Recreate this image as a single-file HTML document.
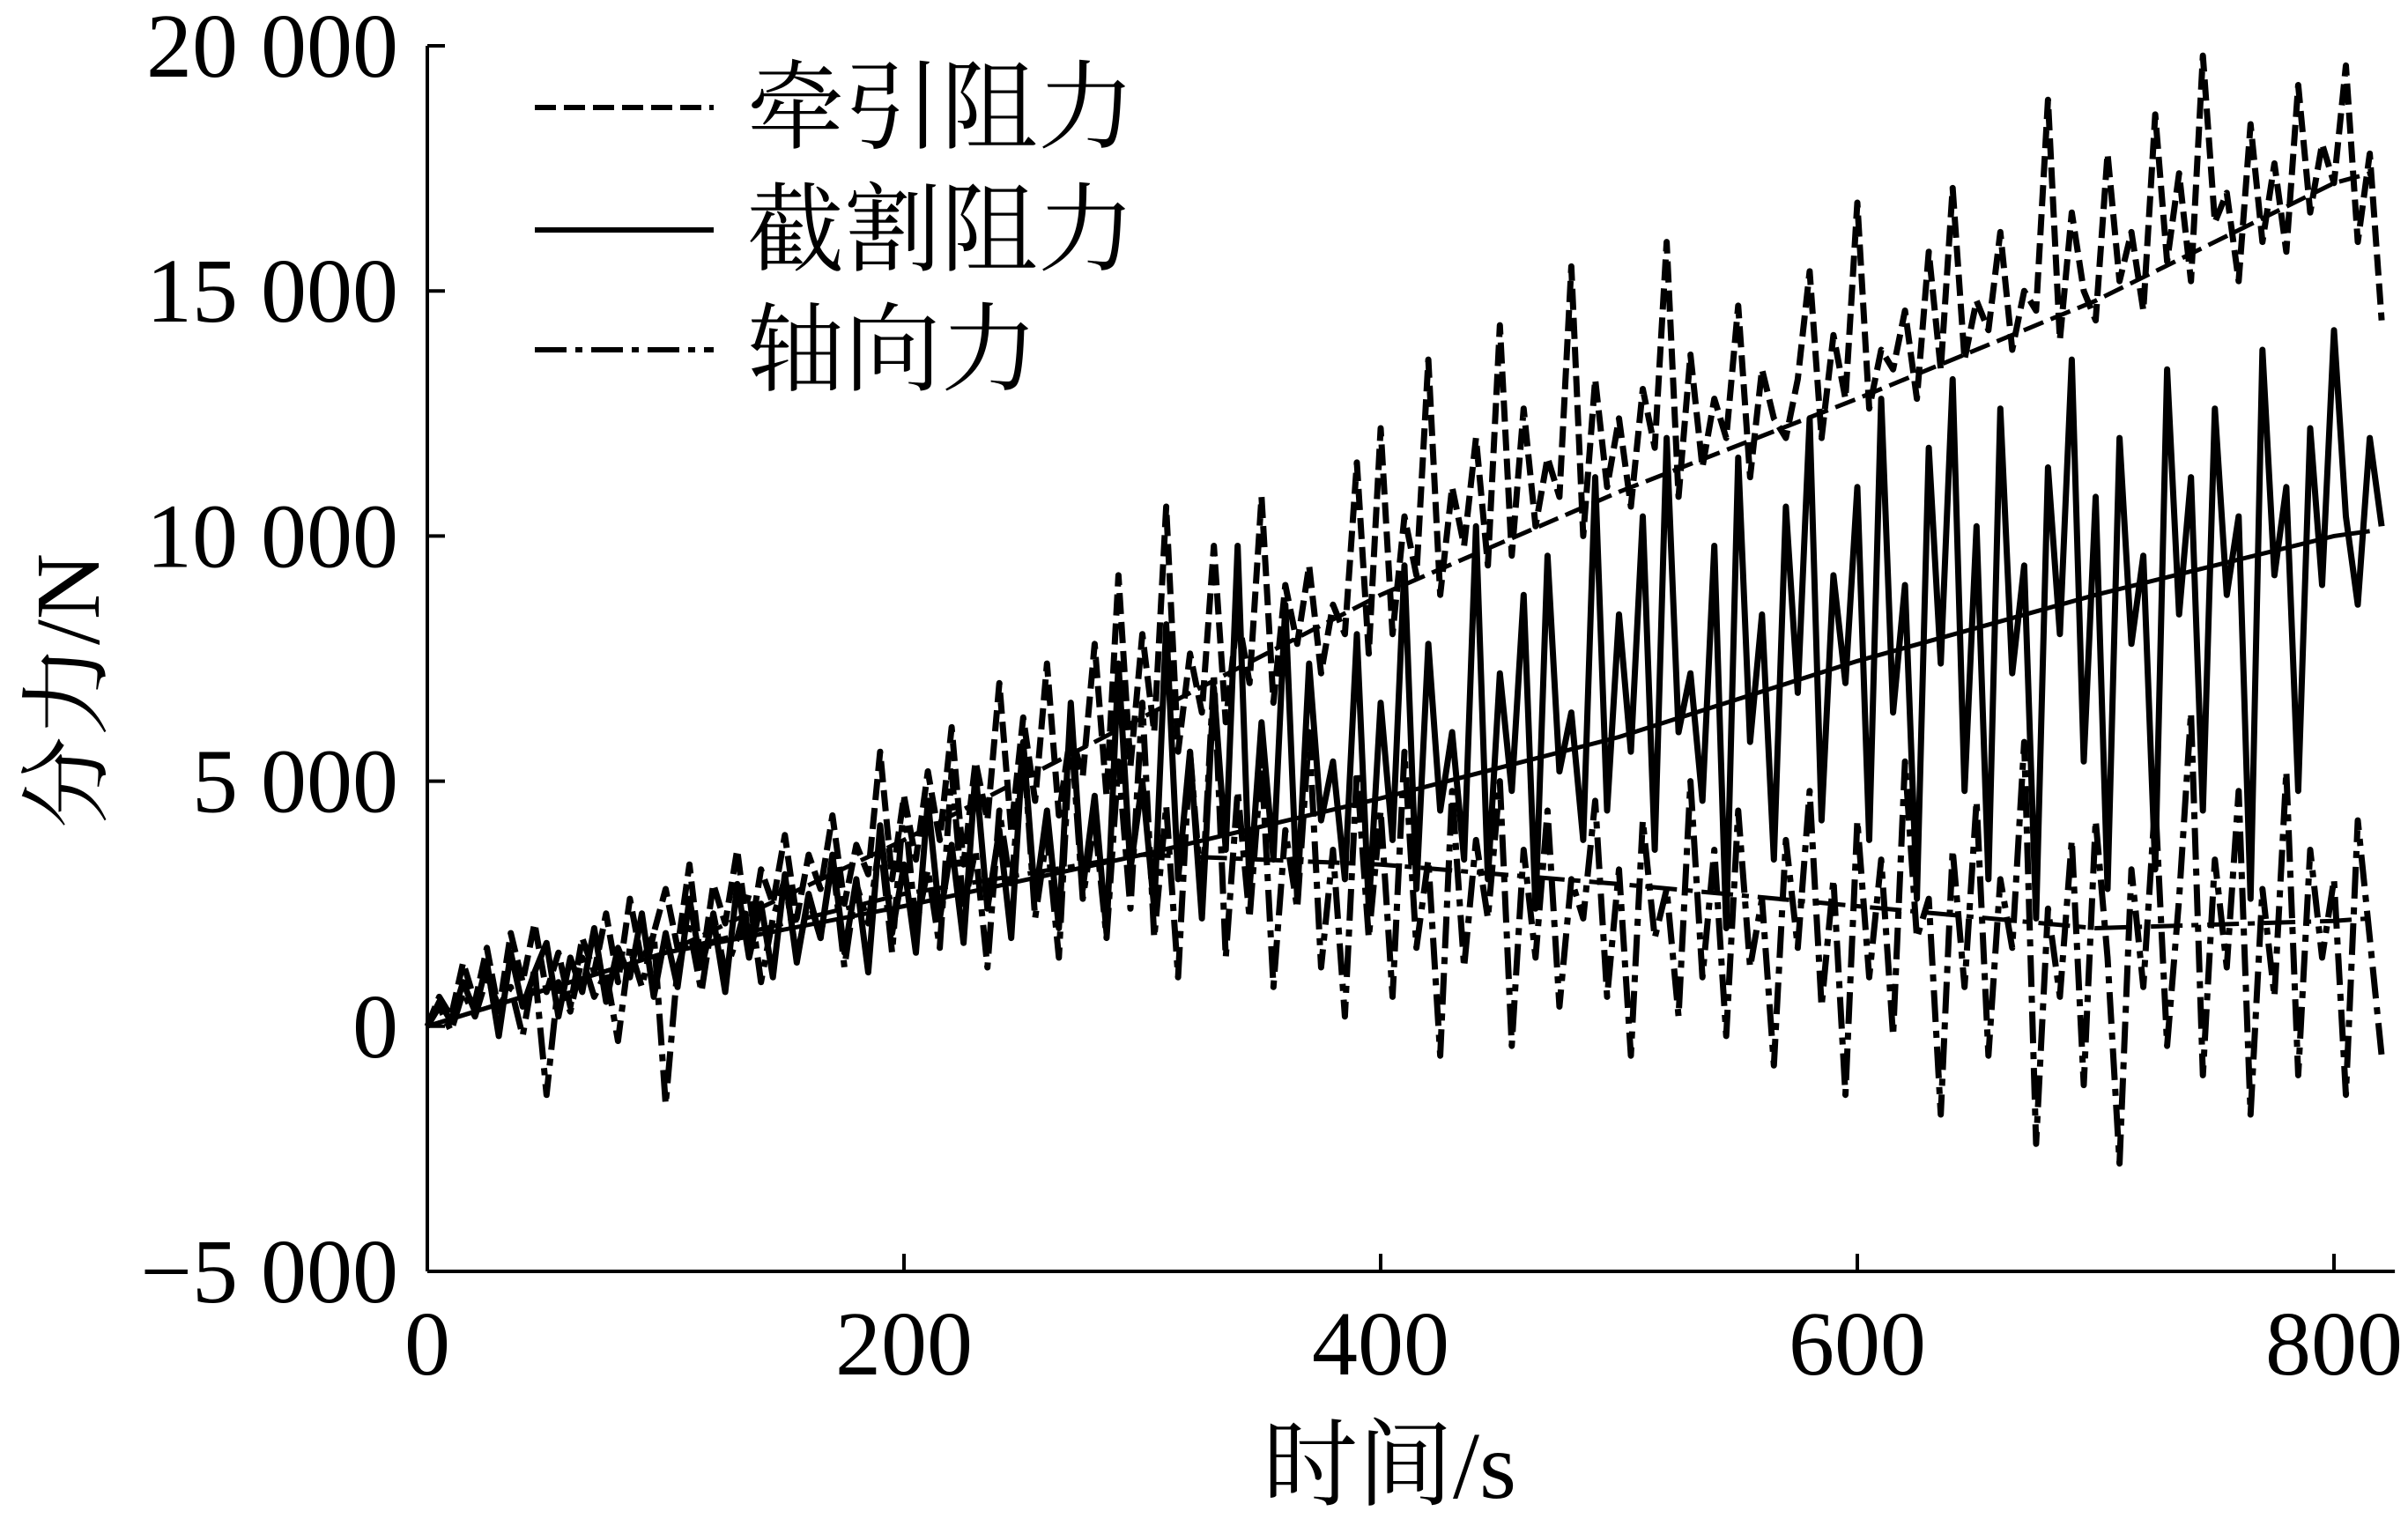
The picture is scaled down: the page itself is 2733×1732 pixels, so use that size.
<!DOCTYPE html>
<html><head><meta charset="utf-8"><style>
html,body{margin:0;padding:0;background:#fff;}
svg{display:block;}
text{font-family:"Liberation Serif","Noto Serif CJK SC","Noto Sans CJK SC",serif;fill:#000;}
</style></head><body>
<svg id="chart" width="2733" height="1732" viewBox="0 0 2733 1732" xmlns="http://www.w3.org/2000/svg">
<g id="axes"></g>
<g id="series"></g>
<g id="legend"></g>
</svg>
<script>
const xTicks=[0,200,400,600,800];
const xTickLabels=["0","200","400","600","800"];
const yTicks=[-5000,0,5000,10000,15000,20000];
const yTickLabels=["−5 000","0","5 000","10 000","15 000","20 000"];
const tMax=820;
const traction=[0,600,200,1300,500,1600,300,1900,900,2100,
700,1500,400,1800,1100,2300,900,2600,1300,1900,
2800,1600,3300,1200,2900,2100,3600,1700,3200,2500,
3900,2200,3500,2800,4300,2500,3700,3100,5600,3000,
4700,3400,5200,3800,6100,3300,5400,4200,7000,4000,
6300,4600,7400,4300,6000,5100,7800,4700,9200,5300,
8000,6000,10600,5600,7600,6400,9800,6200,8400,7000,
10800,6600,9000,7800,9400,7200,8600,8000,11500,7600,
12200,8000,10400,9200,13600,8800,11000,9800,12000,9400,
14300,9600,12600,10200,11600,10800,15500,10000,13200,11000,
12400,10600,13000,11800,16000,10800,13700,11400,12800,12000,
14700,11200,13400,12400,12000,13200,15400,12000,14100,12800,
16800,12600,13800,13400,14600,12800,15800,13400,17100,13600,
14800,14200,16200,13800,15000,14600,18900,14000,16600,15000,
14400,17800,15200,16200,14600,18600,15600,17400,15200,19800,
16400,17000,15200,18400,16000,17600,15800,19200,16600,18000,
17200,19600,16000,17800,14400];
const cutting=[0,500,100,900,300,1300,-200,1500,400,1100,
1700,200,1400,700,2000,500,1600,1000,2300,600,
1900,800,2600,1200,2200,700,2900,1400,2500,1000,
3100,1300,2700,1800,3500,1500,3000,1100,4100,1900,
3300,1500,4600,2200,3700,1700,5200,2400,4000,1800,
5800,2600,4400,2000,6600,2800,4700,1900,7400,3200,
5000,2400,8200,3000,5600,2200,6900,3600,9800,2800,
6200,3400,8600,2600,7400,4200,5400,3000,8000,2400,
6600,3800,9400,2800,7800,4400,6000,3400,10200,3000,
7200,4800,8800,2400,9600,5200,6400,3800,11200,4400,
8400,5600,10400,3600,12000,6000,7200,4600,9800,2000,
11600,5800,8400,3400,10600,6800,12400,4200,9200,7000,
11000,3800,12800,6400,9000,2600,11800,7400,13200,4800,
10200,3000,12600,7200,9400,2200,11400,8000,13600,5400,
10800,2800,12000,7800,9600,3200,13400,8400,11200,4400,
12600,8800,10400,2600,13800,9200,11000,4800,12200,9000,
14200,10400,8600,12000,10200];
const axial=[0,400,-100,700,200,1000,400,800,-200,1200,
-1400,900,300,1400,600,1100,-300,1600,800,1900,
-1600,1200,2000,700,2300,1100,1800,2700,900,2200,
3000,1400,2600,1800,3400,1200,2900,2100,3800,1500,
4600,2000,3200,1600,5200,2400,3600,1200,4400,2800,
5800,2200,3900,1400,6100,2600,4200,1800,5400,2400,
6600,1800,4500,1000,5600,2600,7200,1400,4800,2200,
5400,800,4000,2400,6000,1200,3600,200,5200,1800,
4400,600,5600,1600,3400,-600,4800,1200,3800,2200,
5000,-400,3600,1400,4400,400,3000,2200,4600,600,
3200,-600,4200,1800,2800,200,5000,1000,3600,-200,
4400,1200,2600,-800,3800,1600,4800,400,3000,-1400,
4200,1000,3400,-200,5400,1800,2600,-1800,3600,800,
4600,-600,3000,1600,5800,-2400,2400,600,3800,-1200,
4200,1400,-2800,3200,800,4600,-400,2600,6400,-1000,
3400,1200,4800,-1800,2800,600,5200,-1000,3600,1400,
3000,-1400,4200,1800,-600];
const trendT=[0,100,200,300,400,500,600,700,800,815];
const tractionTrend=[0,1500,3800,6300,8800,10900,12800,14800,17200,17400];
const cuttingTrend=[0,1500,2450,3500,4650,5900,7450,8800,10000,10100];
const axialTrend=[0,1500,2700,3500,3300,2900,2450,2000,2150,2200];

const X0=485,X1=2649,Y20=52,Ym5=1443;
const xs=v=>X0+(v/800)*(X1-X0);
const ys=v=>Ym5-(v+5000)/25000*(Ym5-Y20);
const NS="http://www.w3.org/2000/svg";
function mk(tag,attrs,parent){const e=document.createElementNS(NS,tag);for(const k in attrs)e.setAttribute(k,attrs[k]);parent.appendChild(e);return e;}
const axes=document.getElementById('axes');
let e=mk('line',{x1:X0,y1:Y20,x2:X0,y2:Ym5,stroke:'#000','stroke-width':4},axes);


e=mk('line',{x1:X0,y1:Ym5,x2:xs(tMax)+15,y2:Ym5,stroke:'#000','stroke-width':4},axes);


yTicks.forEach((v,i)=>{
 const t=mk('line',{x1:X0,y1:ys(v),x2:X0+20,y2:ys(v),stroke:'#000','stroke-width':4},axes);
 
 
 const l=mk('text',{x:452,y:ys(v)+35,'text-anchor':'end','font-size':104},axes);
 l.textContent=yTickLabels[i];
 
 
});
xTicks.forEach((v,i)=>{
 const t=mk('line',{x1:xs(v),y1:Ym5,x2:xs(v),y2:Ym5-20,stroke:'#000','stroke-width':4},axes);
 
 
 const l=mk('text',{x:xs(v),y:1560,'text-anchor':'middle','font-size':104},axes);
 l.textContent=xTickLabels[i];
 
 
});
e=mk('text',{x:1577,y:1700,'text-anchor':'middle','font-size':108},axes);
e.textContent='时间/s';


e=mk('text',{x:0,y:0,'text-anchor':'middle','font-size':104,transform:'translate(112,784) rotate(-90)'},axes);
e.textContent='分力/N';



const ser=document.getElementById('series');
function noisyPath(arr){const dt=tMax/(arr.length-1);return arr.map((v,i)=>(i?'L':'M')+xs(i*dt).toFixed(1)+','+ys(v).toFixed(1)).join(' ');}
function trendPath(arr){return arr.map((v,i)=>(i?'L':'M')+xs(trendT[i]).toFixed(1)+','+ys(v).toFixed(1)).join(' ');}
const DASH='24,9',DASHDOT='36,10,8,10';
e=mk('path',{d:noisyPath(axial),fill:'none',stroke:'#000','stroke-width':7,'stroke-dasharray':DASHDOT,'stroke-linejoin':'round'},ser);


e=mk('path',{d:noisyPath(traction),fill:'none',stroke:'#000','stroke-width':7,'stroke-dasharray':DASH,'stroke-linejoin':'round'},ser);


e=mk('path',{d:noisyPath(cutting),fill:'none',stroke:'#000','stroke-width':7,'stroke-linejoin':'round'},ser);


e=mk('path',{d:trendPath(tractionTrend),fill:'none',stroke:'#000','stroke-width':5,'stroke-dasharray':DASH},ser);


e=mk('path',{d:trendPath(cuttingTrend),fill:'none',stroke:'#000','stroke-width':5},ser);


e=mk('path',{d:trendPath(axialTrend),fill:'none',stroke:'#000','stroke-width':5,'stroke-dasharray':DASHDOT},ser);



const leg=document.getElementById('legend');
const legItems=[['牵引阻力',DASH,122],['截割阻力','none',261],['轴向力',DASHDOT,397]];
legItems.forEach(it=>{
 const l=mk('line',{x1:607,y1:it[2],x2:810,y2:it[2],stroke:'#000','stroke-width':6,'stroke-dasharray':it[1]},leg);
 
 
 const t=mk('text',{x:848,y:it[2]+38,'font-size':110},leg);
 t.textContent=it[0];
 
 
});
</script>
</body></html>
